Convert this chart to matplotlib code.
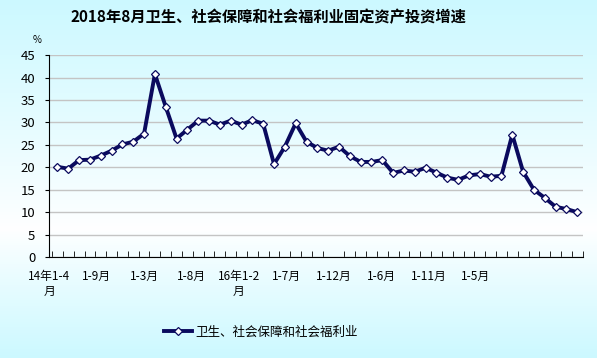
import matplotlib
matplotlib.use("Agg")
import matplotlib.pyplot as plt
import numpy as np

plt.rcParams['font.family'] = ['Noto Sans CJK SC', 'DejaVu Sans']

# monthly cumulative growth, 2014 1-4 .. 2018 1-8 (%)
values = [20.1, 19.7, 21.6, 21.7, 22.6, 23.7, 25.1, 25.7, 27.5,
          40.8, 33.5, 26.4, 28.4, 30.4, 30.4, 29.5, 30.4, 29.5, 30.5, 29.7,
          20.7, 24.6, 29.8, 25.7, 24.3, 23.7, 24.6, 22.5, 21.2, 21.2, 21.6,
          18.75, 19.3, 19.0, 19.9, 18.8, 17.7, 17.2, 18.2, 18.5, 17.9, 18.1,
          27.3, 19.0, 15.0, 13.2, 11.2, 10.7, 10.0]
tick_labels = ["14年1-4\n月", "1-9月", "1-3月", "1-8月", "16年1-2\n月",
               "1-7月", "1-12月", "1-6月", "1-11月", "1-5月"]
series_name = "卫生、社会保障和社会福利业"
title = "2018年8月卫生、社会保障和社会福利业固定资产投资增速"

fig = plt.figure(figsize=(5.97, 3.58), dpi=100)

# background gradient: cyan at top and bottom, white in the middle
h = 358
yy = np.linspace(0, 1, h)
s = np.where(yy < 0.64, 1 - yy / 0.64, (yy - 0.64) / 0.36)
s = np.clip(s, 0, 1) ** 0.9
cyan = np.array([0.80, 0.975, 1.0])
img = (1 - s[:, None]) * np.ones(3) + s[:, None] * cyan
img = np.repeat(img[:, None, :], 10, axis=1)
bg = fig.add_axes([0, 0, 1, 1], zorder=0)
bg.imshow(img, aspect='auto', extent=[0, 1, 0, 1])
bg.axis('off')

ax = fig.add_axes([0.0826, 0.282, 0.8934, 0.564], zorder=1)
ax.patch.set_alpha(0)
x = np.arange(len(values))
ax.plot(x, values, color='#0a0a5e', lw=2.8, marker='D', ms=4.3,
        mfc='white', mec='#0a0a5e', mew=0.9, label=series_name,
        solid_joinstyle='round')
ax.set_xlim(-0.5, len(values) - 0.5)
ax.set_ylim(0, 45)
ax.set_yticks(np.arange(0, 46, 5))
ax.grid(axis='y', color='#c4c4c4', lw=1)
ax.set_axisbelow(True)
for sp in ['top', 'right']:
    ax.spines[sp].set_visible(False)
ax.spines['left'].set_color('black')
ax.spines['bottom'].set_color('black')
ax.tick_params(axis='y', length=3, pad=7, labelsize=9.5, colors='black')

ax.set_xticks(np.arange(-0.5, len(values), 1.0), minor=True)
ax.set_xticks(-0.75 + 4.375 * np.arange(len(tick_labels)))
ax.set_xticklabels(tick_labels, fontsize=8.5, linespacing=1.2, va='top')
ax.tick_params(axis='x', which='major', length=0, pad=9)
ax.tick_params(axis='x', which='minor', direction='in', length=4)

fig.text(0.062, 0.888, "%", fontsize=7, ha='center', va='center')
fig.text(0.449, 0.953, title, fontsize=11, fontweight='bold',
         ha='center', va='center')
fig.legend(loc='center', bbox_to_anchor=(0.437, 1 - 332 / 358),
           frameon=False, fontsize=9, handlelength=2.2, handletextpad=0.3)

fig.savefig("out.png", dpi=100)
